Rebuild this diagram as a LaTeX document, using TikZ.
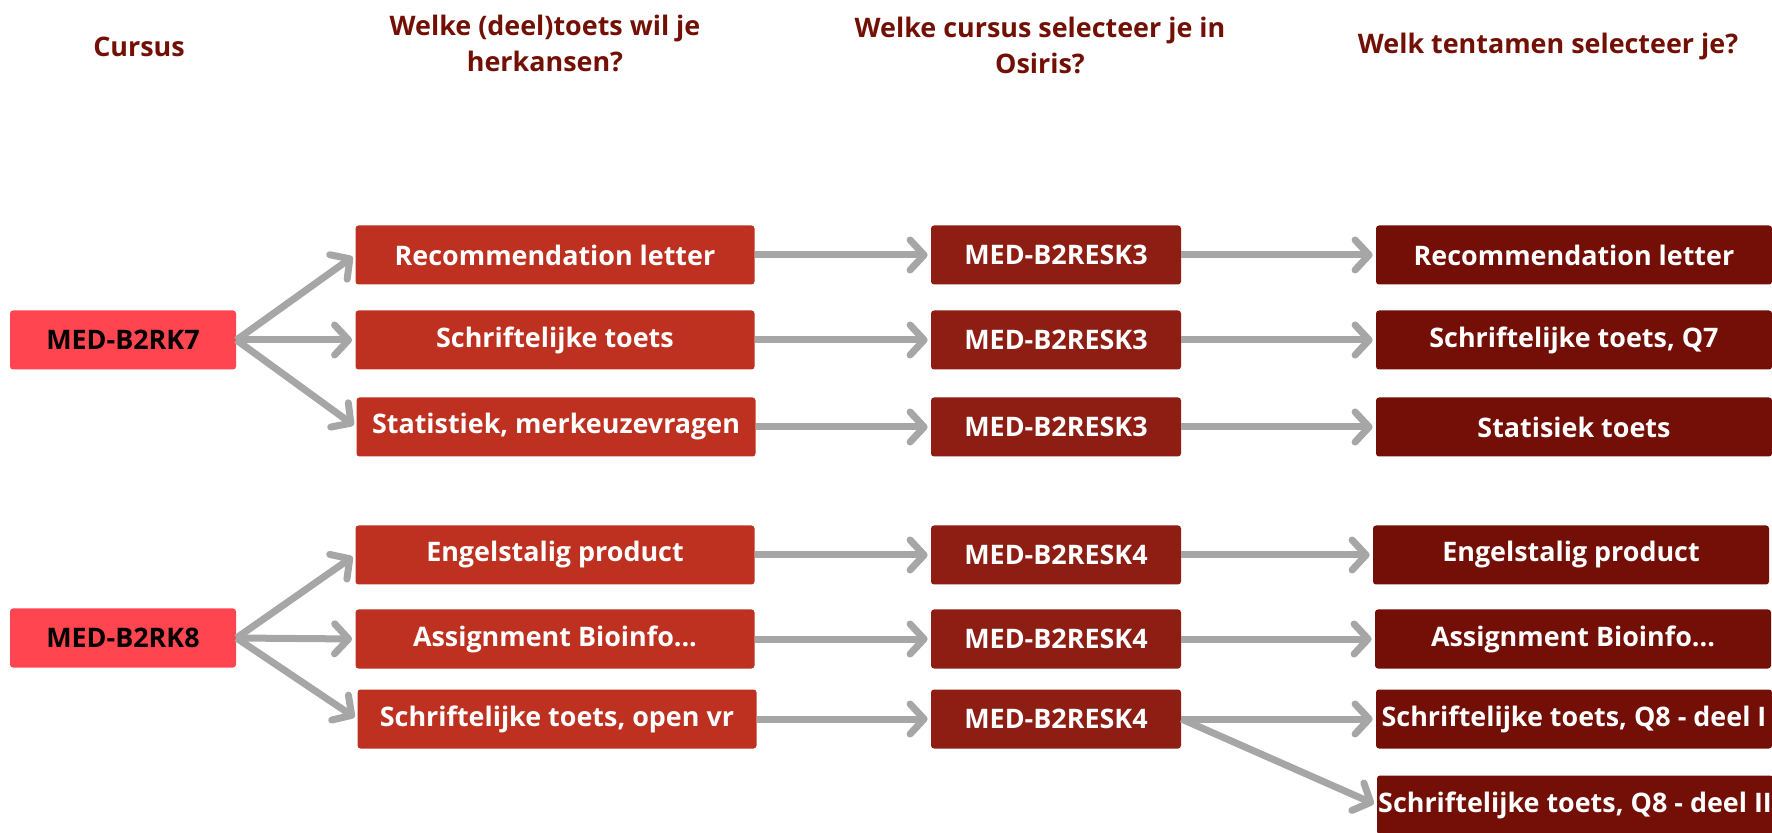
\documentclass[tikz,border=0pt]{standalone}
\usepackage{fontspec}
\setmainfont{Open Sans}
\usetikzlibrary{arrows.meta}

\definecolor{kopkleur}{HTML}{731005}
\definecolor{cursusrood}{HTML}{FF4550}
\definecolor{toetsrood}{HTML}{BE3020}
\definecolor{osirisrood}{HTML}{8E1D13}
\definecolor{tentamenrood}{HTML}{730F06}
\definecolor{pijlgrijs}{HTML}{A6A6A6}

\begin{document}
\begin{tikzpicture}[x=0.5pt,y=-0.5pt,
					every node/.style={font=\fontsize{13.45}{18}\selectfont\bfseries},
					kop/.style={text=kopkleur, align=center},
					blok/.style={rounded corners=1.5pt, minimum height=29.5pt, inner sep=0pt, text=white},
					cursus/.style={blok, fill=cursusrood, text=black, minimum width=113pt},
					toets/.style={blok, fill=toetsrood, minimum width=199.5pt},
					osiris/.style={blok, fill=osirisrood, minimum width=125pt},
					tentamen/.style={blok, fill=tentamenrood, minimum width=198pt},
					pijl/.style={draw=pijlgrijs, line width=3.5pt, shorten >=1.5pt,
						-{Straight Barb[round, length=7pt, width=15pt]}}]
					\useasboundingbox (0,0) rectangle (1772,833);
					% kopjes
					\node[kop] (k1) at (139,47) {Cursus};
					\node[kop] (k2) at (545,43) {Welke (deel)toets wil je\\herkansen?};
					\node[kop] (k3) at (1040,45) {Welke cursus selecteer je in\\Osiris?};
					\node[kop] (k4) at (1548,47) {Welk tentamen selecteer je?};
					% cursussen
					\node[cursus] (rk7) at (123,340) {MED-B2RK7};
					\node[cursus] (rk8) at (123,638) {MED-B2RK8};
					% deeltoetsen
					\node[toets] (t1) at (555,255) {Recommendation letter};
					\node[toets] (t2) at (555,340) {Schriftelijke toets};
					\node[toets] (t3) at (556,427) {Statistiek, merkeuzevragen};
					\node[toets] (t4) at (555,555) {Engelstalig product};
					\node[toets] (t5) at (555,639) {Assignment Bioinfo...};
					\node[toets] (t6) at (557,719) {Schriftelijke toets, open vr};
					% cursussen in Osiris
					\foreach \i/\y/\c in {1/255/3, 2/340/3, 3/427/3, 4/555/4, 5/639/4, 6/719/4}
						\node[osiris] (o\i) at (1056,\y) {MED-B2RESK\c};
					% tentamens
					\node[tentamen] (e1) at (1574,255) {Recommendation letter};
					\node[tentamen] (e2) at (1574,340) {Schriftelijke toets, Q7};
					\node[tentamen] (e3) at (1574,427) {Statisiek toets};
					\node[tentamen] (e4) at (1571,555) {Engelstalig product};
					\node[tentamen] (e5) at (1573,639) {Assignment Bioinfo...};
					\node[tentamen] (e6) at (1574,719) {Schriftelijke toets, Q8 - deel I};
					\node[tentamen] (e7) at (1575,805) {Schriftelijke toets, Q8 - deel II};
					% pijlen
					\foreach \i in {1,2,3}
						\draw[pijl] (rk7.east) -- (t\i.west);
					\foreach \i in {4,5,6}
						\draw[pijl] (rk8.east) -- (t\i.west);
					\foreach \i in {1,...,6}{
						\draw[pijl] (t\i.east) -- (o\i.west);
						\draw[pijl] (o\i.east) -- (e\i.west);
					}
					\draw[pijl] (o6.east) -- (e7.west);
				\end{tikzpicture}
\end{document}
